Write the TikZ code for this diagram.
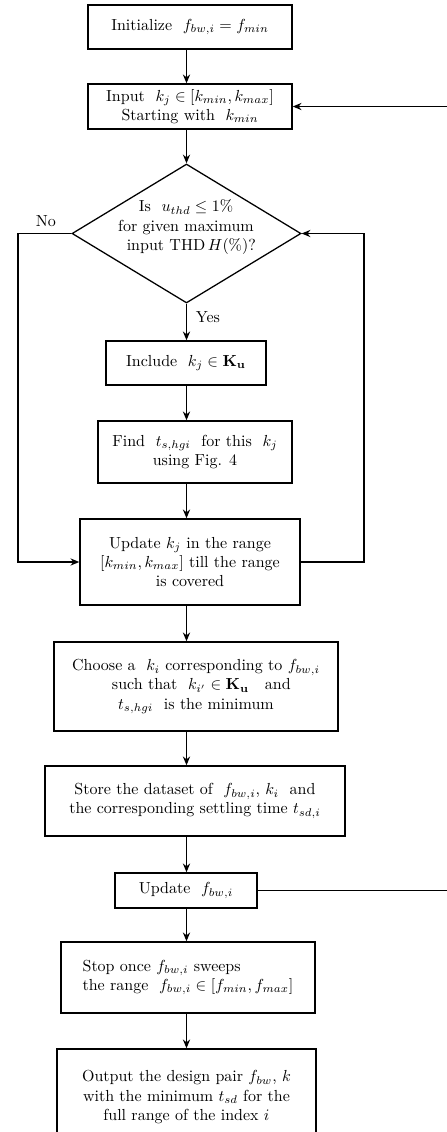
\documentclass[tikz,border=0pt]{standalone}
\usetikzlibrary{arrows.meta,shapes.geometric}
\newdimen\px \px=0.625pt
\begin{document}
\begin{tikzpicture}[x=0.625pt,y=-0.625pt,
  box/.style={draw,line width=0.9pt,inner sep=0pt,align=center},
  arr/.style={line width=0.8pt,-{Stealth[length=5.5pt,width=4.5pt]}},
  lbl/.style={inner sep=0pt}]
\useasboundingbox (0,0) rectangle (446,1132);
\node[box,minimum width=204\px,minimum height=44\px] (init) at (190,27) {Initialize\ \ $f_{bw,i}=f_{min}$};
\node[box,minimum width=204\px,minimum height=45\px] (input) at (190,106.5) {Input\ \ $k_j\in[k_{min},k_{max}]$\\Starting with\ \ $k_{min}$};
\node[draw,diamond,line width=0.8pt,minimum width=229\px,minimum height=139\px,inner sep=0pt] (dec) at (186.5,233.5) {};
\node[lbl,align=center] (dect) at (186,227) {Is\ \ $u_{thd}\le 1\%$\\for given maximum\\\ \ input THD\,$H(\%)$?};
\node[lbl] (no) at (46,221) {No};
\node[lbl] (yes) at (208,317) {Yes};
\node[box,minimum width=160\px,minimum height=44\px] (incl) at (186,363) {Include\ \ $k_j\in\mathbf{K}_{\mathbf{u}}$};
\node[box,minimum width=194\px,minimum height=62\px] (find) at (195,452) {Find\ \ $t_{s,hgi}$\ \ for this\ \ $k_j$\\using Fig. 4};
\node[box,minimum width=220\px,minimum height=86\px] (updk) at (190,562) {Update $k_j$ in the range\\$[k_{min},k_{max}]$ till the range\\is covered};
\node[box,minimum width=284\px,minimum height=89\px] (choose) at (196,686.5) {Choose a\ \ $k_i$ corresponding to $f_{bw,i}$\\\ \ such that\ \ $k_{i'}\in\mathbf{K}_{\mathbf{u}}$\ \ \ and\\$t_{s,hgi}$\ \ is the minimum};
\node[box,minimum width=300\px,minimum height=70\px] (store) at (195,801) {Store the dataset of\ \ $f_{bw,i}$,\ $k_i$\ \ and\\the corresponding settling time\ $t_{sd,i}$};
\node[box,minimum width=142\px,minimum height=35\px] (updf) at (186,890.5) {Update\ \ $f_{bw,i}$};
\node[box,minimum width=254\px,minimum height=71\px,align=left] (stop) at (188,977.5) {Stop once $f_{bw,i}$ sweeps\\the range\ \ $f_{bw,i}\in[f_{min},f_{max}]$};
\node[box,minimum width=259\px,minimum height=96\px] (out) at (186.5,1097) {Output the design pair $f_{bw}$,\ $k$\\with the minimum $t_{sd}$ for the\\full range of the index $i$};
\coordinate (lc) at (18,0);
\coordinate (rc) at (364,0);
\coordinate (fb) at (448,0);
\draw[arr] (init.south -| dec.north) -- (input.north -| dec.north);
\draw[arr] (input.south -| dec.north) -- (dec.north);
\draw[arr] (dec.south) -- (incl.north -| dec.south);
\draw[arr] (incl.south -| dec.south) -- (find.north -| dec.south);
\draw[arr] (find.south -| dec.south) -- (updk.north -| dec.south);
\draw[arr] (updk.south -| dec.south) -- (choose.north -| dec.south);
\draw[arr] (choose.south -| dec.south) -- (store.north -| dec.south);
\draw[arr] (store.south -| dec.south) -- (updf.north -| dec.south);
\draw[arr] (updf.south -| dec.south) -- (stop.north -| dec.south);
\draw[arr] (stop.south -| dec.south) -- (out.north -| dec.south);
\draw[arr] (dec.west) -- (dec.west -| lc) |- (updk.west);
\draw[arr] (updk.east) -- (updk.east -| rc) |- (dec.east);
\draw[arr] (updf.east) -- (updf.east -| fb) |- (input.east);
\end{tikzpicture}
\end{document}
